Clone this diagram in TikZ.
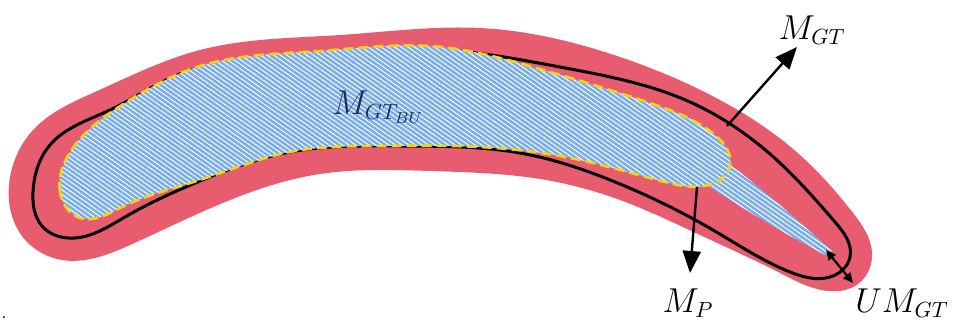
\documentclass[tikz,border=0pt]{standalone}
\usepackage{tikz}
\usetikzlibrary{arrows.meta,patterns.meta,hobby}
\definecolor{band}{RGB}{232,92,112}
\definecolor{bladeblue}{RGB}{122,174,234}
\definecolor{dashy}{RGB}{245,210,20}
\definecolor{navy}{RGB}{28,45,95}
\tikzset{
  lbl/.style={font=\fontsize{16pt}{19pt}\selectfont},
  hatch/.style={pattern={Lines[angle=-35,distance=1.9pt,line width=0.5pt]},pattern color=white},
  bigarrow/.style={line width=1.2pt,-{Triangle[length=11pt,width=9pt]}},
  gaparrow/.style={line width=1.1pt,{Triangle[length=5pt,width=4.5pt]}-{Triangle[length=5pt,width=4.5pt]}}
}
\begin{document}
\begin{tikzpicture}[x=0.5pt,y=-0.5pt]
    \useasboundingbox (0,0) rectangle (959,332);
    % outer band
    \fill[band,use Hobby shortcut,closed=true] (9,185) .. (35,128) .. (95,92) .. (200,50)
      .. (340,35) .. (480,28) .. (620,57) .. (720,100) .. (800,155) .. (853,213)
      .. (872,252) .. (858,284) .. (828,291) .. (780,273) .. (700,235) .. (620,200)
      .. (540,179) .. (430,171) .. (320,174) .. (230,200) .. (130,245) .. (62,260)
      .. (22,236);
    % measured contour
    \draw[line width=1.5pt,use Hobby shortcut,closed=true] (33,192) .. (50,145) .. (110,110)
      .. (180,74) .. (300,57) .. (420,49) .. (560,67) .. (690,102) .. (780,163)
      .. (835,222) .. (850,257) .. (830,277) .. (790,272) .. (713,230) .. (620,184)
      .. (520,153) .. (400,146) .. (290,152) .. (200,181) .. (125,217) .. (75,238)
      .. (42,226);
    % tail
    \fill[bladeblue] (722,158) .. controls (775,200) .. (832,251) -- (825,255)
      .. controls (770,225) .. (705,184) -- cycle;
    \fill[hatch] (722,158) .. controls (775,200) .. (832,251) -- (825,255)
      .. controls (770,225) .. (705,184) -- cycle;
    % back-up contour
    \fill[bladeblue,use Hobby shortcut,closed=true] (60,192) .. (75,145) .. (125,103)
      .. (200,66) .. (320,51) .. (430,46) .. (540,69) .. (650,103) .. (715,135)
      .. (730,166) .. (712,184) .. (665,182) .. (580,160) .. (480,147) .. (380,146)
      .. (290,152) .. (200,180) .. (120,208) .. (80,218);
    \path[hatch,draw=dashy,line width=1.3pt,dash pattern=on 5pt off 2.5pt,use Hobby shortcut,closed=true]
      (60,192) .. (75,145) .. (125,103)
      .. (200,66) .. (320,51) .. (430,46) .. (540,69) .. (650,103) .. (715,135)
      .. (730,166) .. (712,184) .. (665,182) .. (580,160) .. (480,147) .. (380,146)
      .. (290,152) .. (200,180) .. (120,208) .. (80,218);
    % labels
    \node[lbl,text=navy] (bu) at (378,107) {$M_{GT_{BU}}$};
    \node[lbl] (mgt) at (812,30) {$M_{GT}$};
    \node[lbl] (mp) at (688,303) {$M_P$};
    \node[lbl] (umgt) at (902,303) {$UM_{GT}$};
    \node[font=\small] (dot) at (4,318) {.};
    % arrows
    \coordinate (gtfoot) at (727,126);
    \coordinate (gttip) at (797,47);
    \coordinate (pfoot) at (697,187);
    \coordinate (ptip) at (690,273);
    \coordinate (ua) at (826,250);
    \coordinate (ub) at (853,283);
    \draw[bigarrow] (gtfoot) -- (gttip);
    \draw[bigarrow] (pfoot) -- (ptip);
    \draw[gaparrow] (ua) -- (ub);
\end{tikzpicture}
\end{document}
